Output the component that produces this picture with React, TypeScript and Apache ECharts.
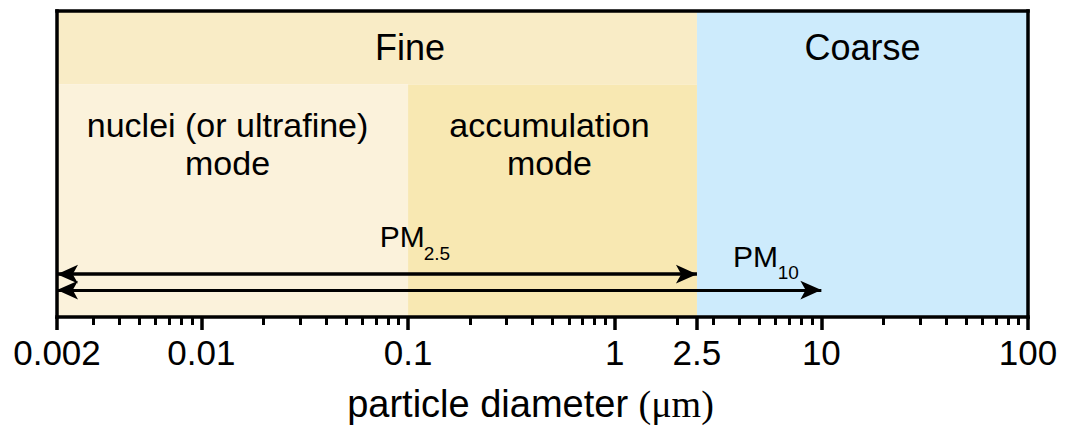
import React, { useEffect, useRef } from "react";
import * as echarts from "echarts";

const majorTicks = [0.002, 0.01, 0.1, 1, 2.5, 10, 100];
const tickLabels = ["0.002", "0.01", "0.1", "1", "2.5", "10", "100"];
const minorTicks = [
  0.003, 0.004, 0.005, 0.006, 0.007, 0.008, 0.009,
  0.02, 0.03, 0.04, 0.05, 0.06, 0.07, 0.08, 0.09,
  0.2, 0.3, 0.4, 0.5, 0.6, 0.7, 0.8, 0.9,
  2, 3, 4, 5, 6, 7, 8, 9,
  20, 30, 40, 50, 60, 70, 80, 90,
];
const regionNames = ["Fine", "Coarse", "nuclei (or ultrafine)\nmode", "accumulation\nmode"];
const regionX = [[0.002, 2.5], [2.5, 100], [0.002, 0.1], [0.1, 2.5]];
const regionY = [[0.76, 1], [0, 1], [0, 0.76], [0, 0.76]];
const regionColors = ["#F9ECC6", "#CDEBFC", "#FBF2DB", "#F8E8B2"];
const arrowNames = ["PM2.5", "PM10"];
const arrowX = [[0.002, 2.5], [0.002, 10]];
const arrowY = [0.14, 0.088];

const L = (v: number) => Math.log10(v);
const SANS = "'Liberation Sans', Arial, Helvetica, sans-serif";

export default function App() {
  const ref = useRef<HTMLDivElement>(null);
  useEffect(() => {
    document.body.style.margin = "0";
    const chart = echarts.init(ref.current!, null, { renderer: "svg" });
    const xMin = L(majorTicks[0]);
    const xMax = L(majorTicks[majorTicks.length - 1]);
    const frameLine = {
      show: true,
      onZero: false,
      lineStyle: { color: "#000", width: 3.5, cap: "square" as const },
    };

    const regionLabelCfg = [
      { position: "inside", fontSize: 36, offset: [33, 0] },
      { position: "insideTop", fontSize: 36, distance: 18 },
      { position: "insideTop", fontSize: 34, distance: 22, lineHeight: 38, offset: [-5, 0] },
      { position: "insideTop", fontSize: 34, distance: 22, lineHeight: 38, offset: [-3, 0] },
    ];

    const markAreaData = regionNames.map((name, i) => [
      {
        name,
        xAxis: L(regionX[i][0]),
        yAxis: regionY[i][0],
        itemStyle: { color: regionColors[i], borderWidth: 0 },
        label: { show: true, color: "#000", fontFamily: SANS, ...regionLabelCfg[i] },
      },
      { xAxis: L(regionX[i][1]), yAxis: regionY[i][1] },
    ]);

    const markLineData = arrowNames.map((name, i) => [
      { name, coord: [L(arrowX[i][0]), arrowY[i]], lineStyle: { width: i === 0 ? 3.5 : 3 } },
      { coord: [L(arrowX[i][1]), arrowY[i]] },
    ]);

    const annotations = [
      { value: [L(0.073), 0.263], label: { formatter: "PM", fontSize: 30 } },
      { value: [L(0.119), 0.2075], label: { formatter: "2.5", fontSize: 19 } },
      { value: [L(3.74), 0.199], label: { formatter: "PM", fontSize: 30 } },
      { value: [L(6.15), 0.145], label: { formatter: "10", fontSize: 19 } },
    ];

    chart.setOption({
      animation: false,
      grid: { left: 57, right: 39, top: 11, bottom: 113, containLabel: false },
      xAxis: [
        {
          type: "value",
          min: xMin,
          max: xMax,
          position: "bottom",
          z: 10,
          axisLine: frameLine,
          axisTick: {
            show: true,
            customValues: majorTicks.map(L),
            length: 13,
            lineStyle: { color: "#000", width: 3.5 },
          },
          axisLabel: {
            show: true,
            customValues: majorTicks.map(L),
            margin: 18,
            fontSize: 35,
            color: "#000",
            fontFamily: SANS,
            formatter: (v: number) => {
              const idx = majorTicks.findIndex((t) => Math.abs(L(t) - v) < 1e-6);
              return idx >= 0 ? tickLabels[idx] : "";
            },
          },
          splitLine: { show: false },
          name: "particle diameter {u|(μm)}",
          nameLocation: "middle",
          nameGap: 68,
          nameTextStyle: {
            fontSize: 38,
            color: "#000",
            fontFamily: SANS,
            padding: [0, 24, 0, 0],
            rich: { u: { fontSize: 38, color: "#000", fontFamily: "'Liberation Serif', 'Times New Roman', serif" } },
          },
        },
        {
          type: "value",
          min: xMin,
          max: xMax,
          position: "bottom",
          z: 9,
          axisLine: { show: false, onZero: false },
          axisTick: {
            show: true,
            customValues: minorTicks.map(L),
            length: 8,
            lineStyle: { color: "#000", width: 3 },
          },
          axisLabel: { show: false },
          splitLine: { show: false },
        },
        {
          type: "value",
          min: xMin,
          max: xMax,
          position: "top",
          z: 10,
          axisLine: frameLine,
          axisTick: { show: false },
          axisLabel: { show: false },
          splitLine: { show: false },
        },
      ],
      yAxis: [
        {
          type: "value",
          min: 0,
          max: 1,
          position: "left",
          z: 10,
          axisLine: frameLine,
          axisTick: { show: false },
          axisLabel: { show: false },
          splitLine: { show: false },
        },
        {
          type: "value",
          min: 0,
          max: 1,
          position: "right",
          z: 10,
          axisLine: frameLine,
          axisTick: { show: false },
          axisLabel: { show: false },
          splitLine: { show: false },
        },
      ],
      series: [
        {
          type: "scatter",
          xAxisIndex: 0,
          yAxisIndex: 0,
          symbolSize: 0,
          silent: true,
          itemStyle: { opacity: 1 },
          data: annotations.map((a) => ({
            value: a.value,
            label: {
              show: true,
              position: "inside",
              align: "left",
              verticalAlign: "middle",
              color: "#000",
              opacity: 1,
              fontFamily: SANS,
              ...a.label,
            },
          })),
          markArea: {
            silent: true,
            data: markAreaData,
          },
          markLine: {
            silent: true,
            symbol: ["arrow", "arrow"],
            symbolSize: [14, 21],
            label: { show: false },
            lineStyle: { color: "#000", type: "solid", width: 3, opacity: 1 },
            emphasis: { disabled: true },
            data: markLineData,
          },
        },
      ],
    });
    return () => chart.dispose();
  }, []);
  return <div ref={ref} style={{ width: 1067, height: 430 }} />;
}
